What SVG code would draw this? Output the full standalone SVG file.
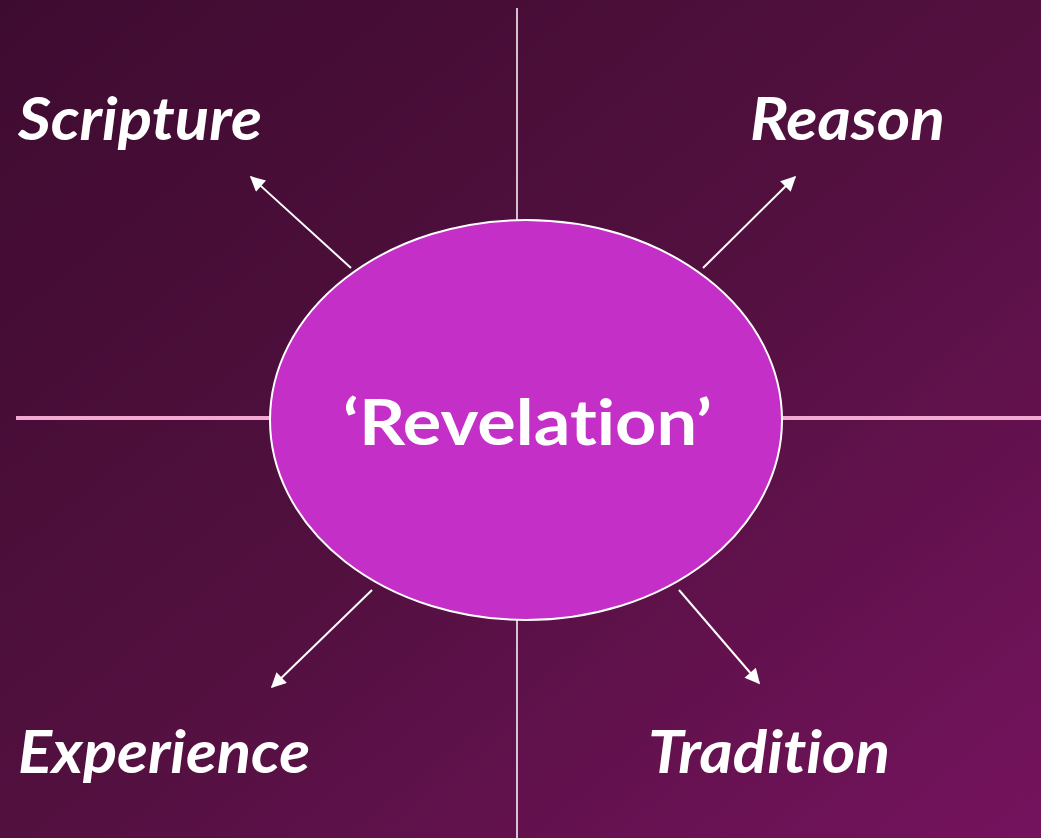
<svg xmlns="http://www.w3.org/2000/svg" width="1041" height="838" viewBox="0 0 1041 838">
<defs>
<linearGradient id="bg" x1="0" y1="0" x2="1" y2="1">
<stop offset="0" stop-color="#3e0b30"/>
<stop offset="0.5" stop-color="#52103f"/>
<stop offset="1" stop-color="#75135e"/>
</linearGradient>
<marker id="ah" viewBox="0 0 10 10" refX="9" refY="5" markerWidth="17" markerHeight="15" orient="auto" markerUnits="userSpaceOnUse">
<path d="M0,0 L10,5 L0,10 z" fill="#ffffff"/>
</marker>
<style>
.lbl{font-family:Lato,"Open Sans","Liberation Sans",sans-serif;font-weight:bold;font-style:italic;font-size:60px;fill:#ffffff;font-variant-ligatures:none}
.arr{stroke:#ffffff;stroke-width:2;fill:none;marker-end:url(#ah)}
.axis{stroke:#ffffff;stroke-width:1.5}
.hax{stroke:#f2a9d2;stroke-width:4}
</style>
</defs>
<rect width="1041" height="838" fill="url(#bg)"/>
<g id="connectors">
<line class="axis" x1="517" y1="8" x2="517" y2="220"/>
<line class="axis" x1="517" y1="620" x2="517" y2="838"/>
<line class="hax" x1="16" y1="418" x2="270" y2="418"/>
<line class="hax" x1="782" y1="418" x2="1041" y2="418"/>
<line class="arr" x1="351" y1="268" x2="251" y2="177"/>
<line class="arr" x1="703" y1="268" x2="795" y2="177"/>
<line class="arr" x1="372" y1="590" x2="272" y2="687"/>
<line class="arr" x1="679" y1="590" x2="759" y2="683"/>
</g>
<g id="revelation">
<ellipse cx="526" cy="420" rx="256" ry="200" fill="#c42fc8" stroke="#ffffff" stroke-width="2"/>
<text x="343" y="445" textLength="369" lengthAdjust="spacingAndGlyphs" font-family="Lato,'Open Sans','Liberation Sans',sans-serif" font-weight="bold" font-size="64" fill="#ffffff" style="font-variant-ligatures:none">‘Revelation’</text>
</g>
<g id="scripture"><text class="lbl" x="18" y="140" textLength="244" lengthAdjust="spacingAndGlyphs">Scripture</text></g>
<g id="reason"><text class="lbl" x="750" y="140" textLength="195" lengthAdjust="spacingAndGlyphs">Reason</text></g>
<g id="experience"><text class="lbl" x="18" y="773" textLength="292" lengthAdjust="spacingAndGlyphs">Experience</text></g>
<g id="tradition"><text class="lbl" x="648" y="773" textLength="242" lengthAdjust="spacingAndGlyphs">Tradition</text></g>
</svg>
